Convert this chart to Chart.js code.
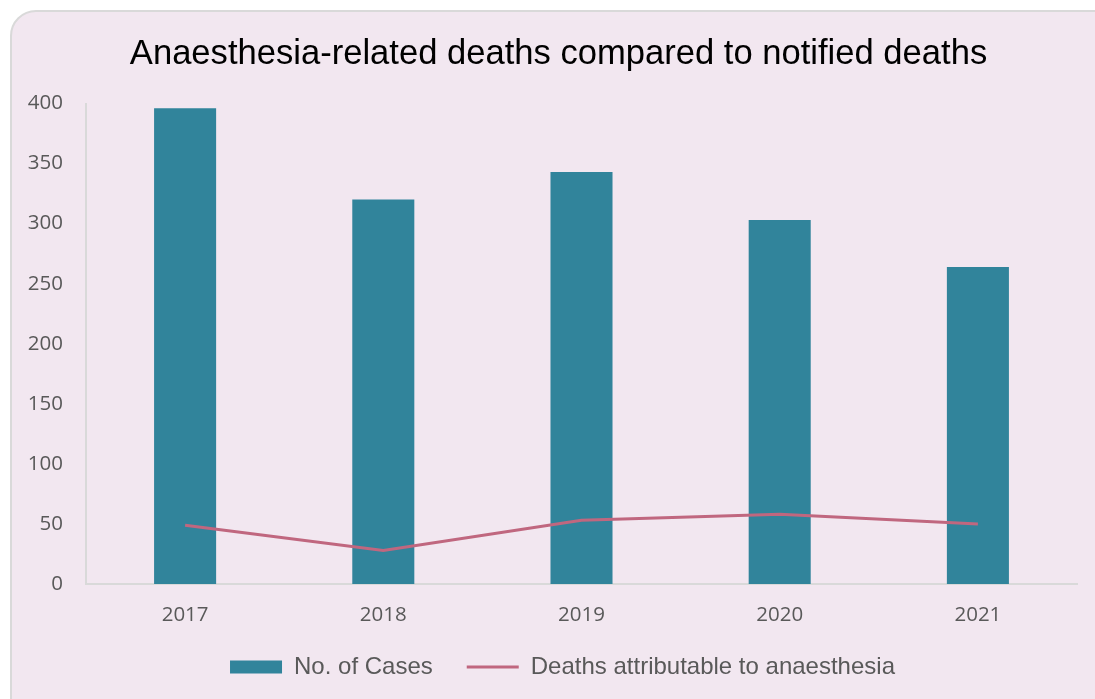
<!DOCTYPE html>
<html>
<head>
<meta charset="utf-8">
<script src="https://cdn.jsdelivr.net/npm/chart.js@4"></script>
<style>
  html, body { margin: 0; padding: 0; background: #ffffff; overflow: hidden; }
  .card {
    position: absolute; left: 10px; top: 10px; width: 1200px; height: 800px;
    background: #f2e7f0; border: 2px solid #d9d9d9; border-radius: 26px;
  }
  .wrap { position: absolute; left: 0; top: 0; width: 1095px; height: 699px; }
</style>
</head>
<body>
<div class="card"></div>
<div class="wrap"><canvas id="chart"></canvas></div>
<script>
// data
const years = ['2017', '2018', '2019', '2020', '2021'];
const cases = [396, 320, 343, 303, 264];
const anaesthesiaDeaths = [49, 28, 53, 58, 50];
const yTicks = [0, 50, 100, 150, 200, 250, 300, 350, 400];

const barColor = '#31849b';
const lineColor = '#c0677f';
const tickColor = '#595959';
const axisColor = '#d9d9d9';

// title and legend sit a little right of the chart area's centre in the original
const nudgeBlocks = {
  id: 'nudgeBlocks',
  afterLayout(chart) {
    if (chart.titleBlock) chart.titleBlock.left += 20;
    if (chart.legend) chart.legend.left += 28;
  },
};

new Chart(document.getElementById('chart').getContext('2d'), {
  type: 'bar',
  data: {
    labels: years,
    datasets: [
      // line first so it is drawn on top of the bars
      { type: 'line', label: 'Deaths attributable to anaesthesia', data: anaesthesiaDeaths,
        borderColor: lineColor, backgroundColor: lineColor, borderWidth: 3,
        pointRadius: 0, tension: 0 },
      { type: 'bar', label: 'No. of Cases', data: cases,
        backgroundColor: barColor, borderWidth: 0,
        barPercentage: 0.313, categoryPercentage: 1 },
    ],
  },
  plugins: [nudgeBlocks],
  options: {
    responsive: true, maintainAspectRatio: false, animation: false,
    layout: { padding: { left: 20, right: 18, top: 0, bottom: 10 } },
    plugins: {
      tooltip: { enabled: false },
      title: {
        display: true, text: 'Anaesthesia-related deaths compared to notified deaths',
        color: '#000000', padding: { top: 34, bottom: 28 },
        font: { family: '"Liberation Sans", Arial, sans-serif', size: 34.6, weight: 'normal', lineHeight: 1.2 },
      },
      legend: {
        position: 'bottom',
        labels: {
          usePointStyle: true, pointStyleWidth: 52, boxHeight: 13, padding: 34,
          color: tickColor,
          font: { family: '"Liberation Sans", Arial, sans-serif', size: 24 },
          generateLabels: chart => Chart.defaults.plugins.legend.labels.generateLabels(chart)
            .map(l => l.datasetIndex === 1
              ? { ...l, pointStyle: 'rect', fillStyle: barColor, strokeStyle: barColor, lineWidth: 0 }
              : { ...l, pointStyle: 'line', fillStyle: lineColor, strokeStyle: lineColor, lineWidth: 3 })
            .reverse(),
        },
      },
    },
    scales: {
      x: {
        grid: { display: false, drawTicks: false },
        border: { display: true, color: axisColor, width: 2 },
        ticks: { color: tickColor, padding: 19, font: { family: '"Open Sans", sans-serif', size: 20.5 } },
        afterFit: s => { s.height = 37; },
      },
      y: {
        min: 0, max: 400,
        afterBuildTicks: s => { s.ticks = yTicks.map(v => ({ value: v })); },
        grid: { display: false, drawTicks: false },
        border: { display: true, color: axisColor, width: 2 },
        ticks: { color: tickColor, padding: 23, font: { family: '"Open Sans", sans-serif', size: 20.5 } },
        afterFit: s => { s.width = 66; },
      },
    },
  },
});
</script>
</body>
</html>
